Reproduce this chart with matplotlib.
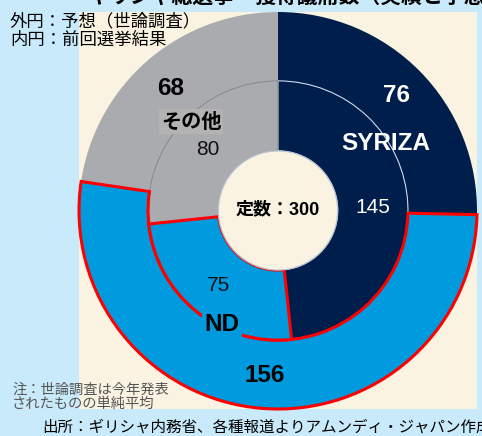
import matplotlib
matplotlib.use('Agg')
import matplotlib.pyplot as plt
from matplotlib.patches import Circle

# data
parties = ["SYRIZA", "ND", "その他"]
outer_seats = [76, 156, 68]    # 予想(世論調査)
inner_seats = [145, 75, 80]    # 前回選挙結果
total_seats = 300

navy = "#001E4B"
blue = "#009BDE"
gray = "#AAABAF"
colors = [navy, blue, gray]
cream = "#FAF3E2"
sky = "#C8EAFA"

W, H = 482, 436
fig = plt.figure(figsize=(W / 100, H / 100), dpi=100)
fig.patch.set_facecolor(sky)

# cream panel behind the donut
bg = fig.add_axes([79 / W, 27 / H, 398 / W, 397 / H])
bg.set_facecolor(cream)
bg.set_xticks([])
bg.set_yticks([])
for s in bg.spines.values():
    s.set_visible(False)

ax = fig.add_axes([79 / W, 27 / H, 398 / W, 397 / H])
ax.set_facecolor("none")

r_out = 1.0
r_mid = 0.653
r_hole = 0.30

w_out, _ = ax.pie(outer_seats, radius=r_out, startangle=90, counterclock=False,
                  colors=colors, wedgeprops=dict(width=r_out - r_mid, edgecolor="none"))
w_in, _ = ax.pie(inner_seats, radius=r_mid, startangle=90, counterclock=False,
                 colors=colors, wedgeprops=dict(width=r_mid - r_hole, edgecolor="none"))

w_in[0].set_edgecolor("#C9D6EA")
w_in[0].set_linewidth(0.8)
w_in[2].set_edgecolor("#7E7F83")
w_in[2].set_linewidth(0.6)
for w in (w_out[1], w_in[1]):
    w.set_edgecolor("#FF0000")
    w.set_linewidth(2.2)
    w.set_zorder(5)

ax.add_patch(Circle((0, 0), r_hole, facecolor=cream, edgecolor="#B8C2D2",
                    linewidth=0.9, zorder=6))

ax.set_xlim(-1, 1)
ax.set_ylim(-1, 1)
ax.set_aspect("auto")


def px(x, y):
    return (x - 278) / 199, (211 - y) / 199


lat = ["Liberation Sans", "Noto Sans CJK JP"]
jp = ["Noto Sans CJK JP", "DejaVu Sans"]
big = 17.5
small = 15

ax.text(*px(396, 96), str(outer_seats[0]), color="white", fontsize=big,
        fontweight="bold", family=lat, ha="center", va="center", zorder=8)
ax.text(*px(386, 144), parties[0], color="white", fontsize=big,
        fontweight="bold", family=lat, ha="center", va="center", zorder=8)
ax.text(*px(373, 208), str(inner_seats[0]), color="white", fontsize=small,
        family=lat, ha="center", va="center", zorder=8)

ax.text(*px(265, 376), str(outer_seats[1]), color="black", fontsize=big,
        fontweight="bold", family=lat, ha="center", va="center", zorder=8)
ax.text(*px(222, 325), parties[1], color="black", fontsize=big,
        fontweight="bold", family=lat, ha="center", va="center", zorder=8,
        bbox=dict(facecolor=blue, edgecolor="none", pad=1.5))
ax.text(*px(218, 286), str(inner_seats[1]), color="#111111", fontsize=small,
        family=lat, ha="center", va="center", zorder=8)

ax.text(*px(171, 89), str(outer_seats[2]), color="black", fontsize=big,
        fontweight="bold", family=lat, ha="center", va="center", zorder=8)
ax.text(*px(191, 122), parties[2], color="black", fontsize=14.5,
        fontweight="bold", family=jp, ha="center", va="center", zorder=8,
        bbox=dict(facecolor="#B3B3B3", edgecolor="none", pad=1.5))
ax.text(*px(208, 150), str(inner_seats[2]), color="#111111", fontsize=small,
        family=lat, ha="center", va="center", zorder=8)

ax.text(0, px(0, 210)[1], f"定数：{total_seats}", color="black", fontsize=13,
        fontweight="bold", family=lat, ha="center", va="center", zorder=9)

# figure texts
fig.text(88 / W, 1 + 4 / H, "ギリシャ総選挙　獲得議席数（実績と予想）",
         fontsize=15, fontweight="bold", family=jp, ha="left", va="center")
fig.text(10 / W, 1 - 21 / H, "外円：予想（世論調査）", fontsize=12.5,
         family=jp, ha="left", va="center")
fig.text(10 / W, 1 - 40 / H, "内円：前回選挙結果", fontsize=12.5,
         family=jp, ha="left", va="center")
fig.text(12 / W, 1 - 390 / H, "注：世論調査は今年発表", fontsize=10.3,
         color="#555555", family=jp, ha="left", va="center")
fig.text(12 / W, 1 - 404 / H, "されたものの単純平均", fontsize=10.3,
         color="#555555", family=jp, ha="left", va="center")
fig.text(42 / W, 1 - 427 / H, "出所：ギリシャ内務省、各種報道よりアムンディ・ジャパン作成",
         fontsize=11.2, family=jp, ha="left", va="center")

fig.savefig("out.png", dpi=100, facecolor=fig.get_facecolor())
